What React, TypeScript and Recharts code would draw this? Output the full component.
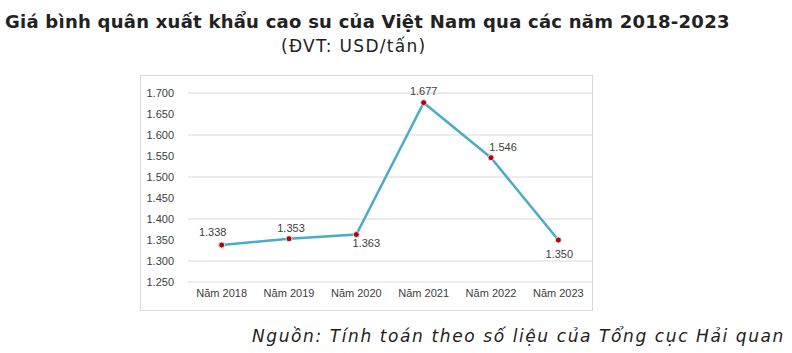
import React from "react"
import { LineChart, Line, XAxis, YAxis, CartesianGrid, LabelList } from "recharts"

const years = ["Năm 2018", "Năm 2019", "Năm 2020", "Năm 2021", "Năm 2022", "Năm 2023"]
const prices = [1338, 1353, 1363, 1677, 1546, 1350]
const yTicks = [1250, 1300, 1350, 1400, 1450, 1500, 1550, 1600, 1650, 1700]
// where each value label sits relative to its dot
const labelOffsets = [
  [-9, -13],
  [2, -11],
  [10, 8],
  [0, -12],
  [12, -11],
  [1, 14],
]

const chartData = years.map((year, i) => ({ year, price: prices[i] }))

const fmt = (v: number) => v.toLocaleString("de-DE")

const PriceLabel = (props: any) => {
  const { x, y, value, index } = props
  const [dx, dy] = labelOffsets[index] || [0, -10]
  return (
    <text
      x={x + dx}
      y={y + dy}
      textAnchor="middle"
      dominantBaseline="central"
      fontSize={11}
      fill="#404040"
      fontFamily="'Liberation Sans', Arial, sans-serif"
    >
      {fmt(value)}
    </text>
  )
}

export default function App() {
  return (
    <div style={{ position: "absolute", left: 0, top: 0, width: 792, height: 353, background: "#fff" }}>
      <div
        style={{
          position: "absolute",
          left: 5,
          top: 11,
          fontFamily: "'DejaVu Sans', sans-serif",
          fontWeight: 700,
          fontSize: 18,
          lineHeight: "21px",
          letterSpacing: 0.25,
          color: "#222",
          whiteSpace: "nowrap",
        }}
      >
        Giá bình quân xuất khẩu cao su của Việt Nam qua các năm 2018-2023
      </div>
      <div
        style={{
          position: "absolute",
          left: 281,
          top: 36,
          fontFamily: "'DejaVu Sans', sans-serif",
          fontWeight: 400,
          fontSize: 17,
          letterSpacing: 1.3,
          color: "#222",
          whiteSpace: "nowrap",
        }}
      >
        (ĐVT: USD/tấn)
      </div>
      <div
        style={{
          position: "absolute",
          left: 140,
          top: 75,
          width: 453,
          height: 236,
          boxSizing: "border-box",
          border: "1px solid #d9d9d9",
        }}
      />
      <div style={{ position: "absolute", left: 140, top: 75 }}>
        <LineChart width={453} height={236} data={chartData} margin={{ top: 18, right: 1, left: 0, bottom: 9 }}>
          <CartesianGrid vertical={false} stroke="#d9d9d9" />
          <XAxis
            dataKey="year"
            scale="band"
            axisLine={false}
            tickLine={false}
            tickSize={0}
            tickMargin={7}
            height={20}
            interval={0}
            tick={{ fontSize: 11, fill: "#404040", fontFamily: "'Liberation Sans', Arial, sans-serif" }}
          />
          <YAxis
            width={48}
            domain={[1250, 1700]}
            ticks={yTicks}
            tickFormatter={fmt}
            axisLine={false}
            tickLine={false}
            tickSize={0}
            tickMargin={14}
            tick={{ fontSize: 11, fill: "#404040", fontFamily: "'Liberation Sans', Arial, sans-serif" }}
          />
          <Line
            type="linear"
            dataKey="price"
            stroke="#4BACC6"
            strokeWidth={2.5}
            dot={{ r: 3, fill: "#C00000", stroke: "#c9e6ee", strokeWidth: 1 }}
            isAnimationActive={false}
          >
            <LabelList dataKey="price" content={<PriceLabel />} />
          </Line>
        </LineChart>
      </div>
      <div
        style={{
          position: "absolute",
          right: 7,
          top: 326,
          fontFamily: "'DejaVu Sans', sans-serif",
          fontStyle: "italic",
          fontSize: 17,
          letterSpacing: 1.6,
          color: "#222",
          whiteSpace: "nowrap",
        }}
      >
        Nguồn: Tính toán theo số liệu của Tổng cục Hải quan
      </div>
    </div>
  )
}
